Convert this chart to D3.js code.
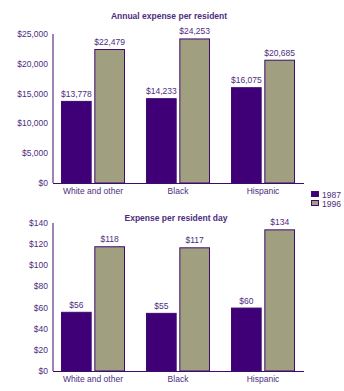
<!DOCTYPE html>
<html><head><meta charset="utf-8">
<script src="https://cdn.jsdelivr.net/npm/d3@7"></script>
<style>body{margin:0;background:#fff}svg{display:block}text{font-family:"Liberation Sans",Arial,sans-serif}</style>
</head><body><svg id="c" width="344" height="391"></svg>
<script>
const categories = ["White and other", "Black", "Hispanic"];
const series = ["1987", "1996"];
const annual1987 = [13778, 14233, 16075];
const annual1996 = [22479, 24253, 20685];
const daily1987 = [56, 55, 60];
const daily1996 = [118, 117, 134];
const annualTicks = [0, 5000, 10000, 15000, 20000, 25000];
const dailyTicks = [0, 20, 40, 60, 80, 100, 120, 140];

const colors = {"1987": "#3f0077", "1996": "#a09f80"};
const textColor = "#4e2d7e";
const stroke = "#3f0a6e";
const svg = d3.select("#c");

function chart(opts) {
  const g = svg.append("g");
  const x = d3.scaleBand().domain(categories).range([53, 303]).paddingInner(0.247).paddingOuter(0.094);
  const xs = d3.scaleBand().domain(series).range([0, x.bandwidth()]).paddingInner(0.08);
  const y = d3.scaleLinear().domain([0, opts.max]).range([opts.y0, opts.y1]);
  const rows = categories.map((c, i) => ({c, v: [opts.a[i], opts.b[i]]}));

  g.append("text").attr("x", opts.tx).attr("y", opts.ty).attr("text-anchor", "middle")
    .attr("font-size", 8.5).attr("font-weight", "bold").attr("fill", textColor).text(opts.title);

  g.selectAll(".tick").data(opts.ticks).join("text")
    .attr("x", 48).attr("y", d => y(d) + 3).attr("text-anchor", "end")
    .attr("font-size", 8.5).attr("fill", textColor).text(opts.fmt);

  rows.forEach(r => {
    series.forEach((s, j) => {
      const v = r.v[j];
      g.append("rect").attr("x", x(r.c) + xs(s) + 0.5).attr("y", y(v) + 0.5)
        .attr("width", xs.bandwidth() - 1).attr("height", y(0) - y(v) - 0.5)
        .attr("fill", colors[s]).attr("stroke", stroke).attr("stroke-width", 1);
      g.append("text").attr("x", x(r.c) + xs(s) + xs.bandwidth() / 2).attr("y", y(v) - 4)
        .attr("text-anchor", "middle").attr("font-size", 8.5).attr("fill", textColor).text(opts.fmt(v));
    });
    g.append("text").attr("x", x(r.c) + x.bandwidth() / 2).attr("y", opts.y0 + 11)
      .attr("text-anchor", "middle").attr("font-size", 8.5).attr("fill", textColor).text(r.c);
  });

  g.append("line").attr("x1", 53).attr("x2", 53).attr("y1", opts.y1).attr("y2", opts.y0)
    .attr("stroke", stroke).attr("stroke-width", 1);
  g.append("line").attr("x1", 53).attr("x2", 304).attr("y1", opts.y0 + 0.5).attr("y2", opts.y0 + 0.5)
    .attr("stroke", stroke).attr("stroke-width", 1);
}

chart({title: "Annual expense per resident", tx: 169, ty: 19, a: annual1987, b: annual1996,
  max: 25000, y0: 183, y1: 34, ticks: annualTicks, fmt: d => "$" + d3.format(",")(d)});
chart({title: "Expense per resident day", tx: 176, ty: 221, a: daily1987, b: daily1996,
  max: 140, y0: 371, y1: 223, ticks: dailyTicks, fmt: d => "$" + d});

const lg = svg.append("g");
series.forEach((s, i) => {
  lg.append("rect").attr("x", 311.5).attr("y", 191.5 + i * 9).attr("width", 7).attr("height", 5)
    .attr("fill", colors[s]).attr("stroke", stroke);
  lg.append("text").attr("x", 322).attr("y", 198 + i * 9).attr("font-size", 8.5)
    .attr("fill", textColor).text(s);
});
</script></body></html>
